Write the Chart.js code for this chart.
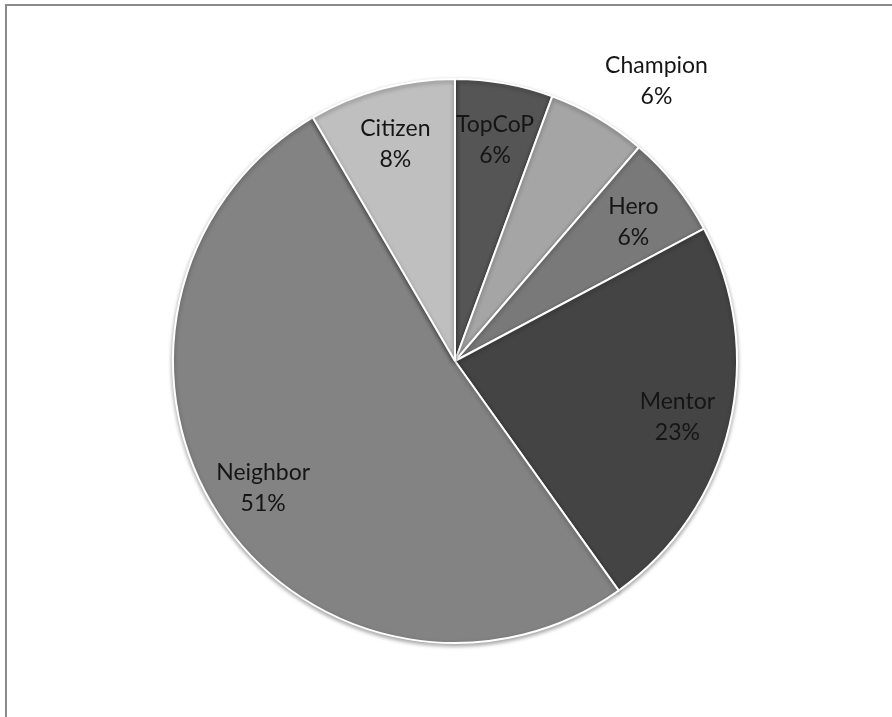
<!DOCTYPE html>
<html>
<head>
<meta charset="utf-8">
<script src="https://cdn.jsdelivr.net/npm/chart.js@4"></script>
<style>
    html, body { margin: 0; padding: 0; background: #fff; }
    body { width: 892px; height: 717px; position: relative; overflow: hidden; }
    .frame {
        position: absolute; left: 5px; top: 4px; right: -10px; bottom: -10px;
        border-top: 2px solid #8a8a8a; border-left: 2px solid #8a8a8a;
    }
    #wrap { position: absolute; left: 0; top: 0; width: 892px; height: 717px; }
</style>
</head>
<body>
<div class="frame"></div>
<div id="wrap"><canvas id="pieChart"></canvas></div>
<script>
// Data (share of members per level, clockwise from 12 o'clock)
const categories = ['TopCoP', 'Champion', 'Hero', 'Mentor', 'Neighbor', 'Citizen'];
const shares = [5.6, 5.7, 5.9, 22.9, 51.4, 8.4];
const sliceColors = ['#555555', '#a5a5a5', '#797979', '#444444', '#838383', '#bfbfbf'];

// Labels sit inside the slices, except Champion which Excel pushed outside
const outsideLabels = { 'Champion': { radius: 1.232, shiftDeg: 5 } };

const labelPlugin = {
    id: 'sliceLabels',
    afterDatasetsDraw(chart) {
        const ctx = chart.ctx;
        const meta = chart.getDatasetMeta(0);
        const total = shares.reduce((a, b) => a + b, 0);
        ctx.save();
        ctx.font = '23px Lato, "Open Sans", sans-serif';
        ctx.fillStyle = '#151515';
        ctx.textAlign = 'center';
        ctx.textBaseline = 'middle';
        meta.data.forEach((arc, i) => {
            const p = arc.getProps(['x', 'y', 'startAngle', 'endAngle', 'outerRadius'], true);
            let mid = (p.startAngle + p.endAngle) / 2;
            let frac = 0.81;
            const special = outsideLabels[categories[i]];
            if (special) {
                frac = special.radius;
                mid += special.shiftDeg * Math.PI / 180;
            }
            const x = p.x + Math.cos(mid) * p.outerRadius * frac;
            const y = p.y + Math.sin(mid) * p.outerRadius * frac;
            const pct = Math.round(shares[i] / total * 100) + '%';
            ctx.fillText(categories[i], x, y - 12);
            ctx.fillText(pct, x, y + 19);
        });
        ctx.restore();
    }
};

const shadowPlugin = {
    id: 'pieShadow',
    beforeDatasetsDraw(chart) {
        const ctx = chart.ctx;
        ctx.save();
        ctx.shadowColor = 'rgba(0,0,0,0.35)';
        ctx.shadowBlur = 4;
        ctx.shadowOffsetY = 2;
    },
    afterDatasetsDraw(chart) {
        chart.ctx.restore();
    }
};

const ctx = document.getElementById('pieChart').getContext('2d');
new Chart(ctx, {
    type: 'pie',
    data: {
        labels: categories,
        datasets: [{
            data: shares,
            backgroundColor: sliceColors,
            borderColor: '#ffffff',
            borderWidth: 2
        }]
    },
    options: {
        responsive: true,
        maintainAspectRatio: false,
        animation: false,
        layout: { padding: { top: 78, bottom: 73, left: 18, right: 0 } },
        plugins: {
            legend: { display: false },
            tooltip: { enabled: false }
        }
    },
    plugins: [shadowPlugin, labelPlugin]
});
</script>
</body>
</html>
